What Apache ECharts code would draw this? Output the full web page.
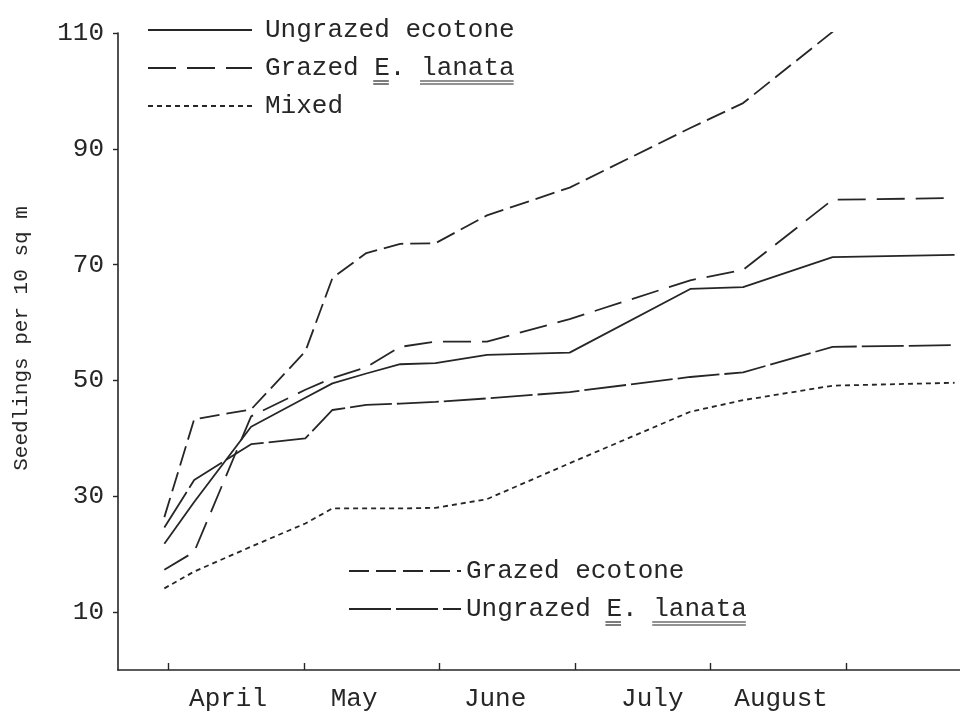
<!DOCTYPE html>
<html>
<head>
<meta charset="utf-8">
<script src="https://cdn.jsdelivr.net/npm/echarts@6/dist/echarts.min.js"></script>
<style>
  html, body { margin: 0; padding: 0; background: #ffffff; }
  #chart { width: 960px; height: 719px; }
</style>
</head>
<body>
<div id="chart"></div>
<script>
// Survey dates, in months after 1 April
const surveyMonths = [-0.03, 0.19, 0.61, 1.01, 1.21, 1.46, 1.71, 1.97, 2.35, 2.96, 3.85, 4.24, 4.90, 5.80];

// Seedlings per 10 sq m at each survey
const grazedEcotone     = [26.4, 43.3, 45.0, 55.0, 67.7, 72.0, 73.6, 73.7, 78.5, 83.3, 93.6, 97.9, 110.2, 112.0];
const grazedLanata      = [17.3, 20.4, 43.8, 48.4, 50.4, 52.3, 55.8, 56.7, 56.7, 60.6, 67.3, 69.1, 81.2, 81.5];
const ungrazedEcotone   = [21.8, 29.0, 42.0, 47.0, 49.5, 51.2, 52.8, 53.0, 54.4, 54.8, 65.8, 66.1, 71.3, 71.7];
const ungrazedLanata    = [24.6, 32.8, 39.0, 40.0, 44.9, 45.8, 46.0, 46.3, 46.9, 48.0, 50.6, 51.4, 55.8, 56.1];
const mixed             = [14.1, 17.0, 21.3, 25.3, 27.9, 27.9, 27.9, 28.0, 29.5, 35.7, 44.6, 46.6, 49.1, 49.6];

// Axis ticks and labels
const monthNames   = ['April', 'May', 'June', 'July', 'August'];
const monthLabelAt = [0.44, 1.37, 2.41, 3.57, 4.52];
const monthTicks   = [0, 1, 2, 3, 4, 5];
const yTicks       = [10, 30, 50, 70, 90, 110];

const FONT = "'Liberation Mono', 'DejaVu Sans Mono', monospace";
const INK = '#262626';
const LEGEND_SIZE = 26;

function pairs(values) {
  return surveyMonths.map((m, i) => [m, values[i]]);
}

function lineSeries(name, values, dash) {
  return {
    name: name,
    type: 'line',
    data: pairs(values),
    symbol: 'none',
    smooth: false,
    animation: false,
    lineStyle: { color: INK, width: 1.8, type: dash },
    itemStyle: { color: INK }
  };
}

const series = [
  lineSeries('Ungrazed ecotone', ungrazedEcotone, 'solid'),
  lineSeries('Grazed E. lanata', grazedLanata, [28, 11]),
  lineSeries('Mixed', mixed, [5, 4]),
  lineSeries('Grazed ecotone', grazedEcotone, [20, 7]),
  lineSeries('Ungrazed E. lanata', ungrazedLanata, [42, 5])
];

// Width of a string in the legend font, used to place the typed underlines
const measurer = document.createElement('canvas').getContext('2d');
measurer.font = LEGEND_SIZE + "px 'Liberation Mono', 'DejaVu Sans Mono', monospace";
function textW(s) { return measurer.measureText(s).width; }

function underline(textLeft, label, word, baseY) {
  const idx = label.indexOf(word);
  const x1 = textLeft + textW(label.slice(0, idx));
  const x2 = x1 + textW(word);
  return [0, 3].map(dy => ({
    type: 'line',
    shape: { x1: x1, y1: baseY + dy, x2: x2, y2: baseY + dy },
    style: { stroke: INK, lineWidth: 1.2 },
    silent: true
  }));
}

const ROW_H = 30, ROW_GAP = 8, LEGEND_PAD = 5;
const topLegendLeft = 142, topIconW = 104, topLegendTop = 10;
const botLegendLeft = 343, botIconW = 112, botLegendTop = 551;
const topTextLeft = topLegendLeft + LEGEND_PAD + topIconW + 5 + 8;
const botTextLeft = botLegendLeft + LEGEND_PAD + botIconW + 5;
// centre of the second row in each key
const topRow2 = topLegendTop + LEGEND_PAD + ROW_H / 2 + ROW_H + ROW_GAP;
const botRow2 = botLegendTop + LEGEND_PAD + ROW_H / 2 + ROW_H + ROW_GAP;

const marks = []
  .concat(underline(topTextLeft, 'Grazed E. lanata', 'E', topRow2 + 13))
  .concat(underline(topTextLeft, 'Grazed E. lanata', 'lanata', topRow2 + 13))
  .concat(underline(botTextLeft, 'Ungrazed E. lanata', 'E', botRow2 + 13))
  .concat(underline(botTextLeft, 'Ungrazed E. lanata', 'lanata', botRow2 + 13));

const option = {
  backgroundColor: '#ffffff',
  animation: false,
  grid: { left: 118, right: 0, top: 33, bottom: 49, containLabel: false },
  legend: [
    {
      data: ['Ungrazed ecotone', 'Grazed E. lanata', 'Mixed'],
      orient: 'vertical', left: topLegendLeft, top: topLegendTop,
      padding: LEGEND_PAD,
      itemWidth: topIconW, itemHeight: 14, itemGap: ROW_GAP,
      selectedMode: false,
      itemStyle: { opacity: 0 },
      textStyle: { fontFamily: FONT, fontSize: LEGEND_SIZE, color: INK,
                   lineHeight: ROW_H, padding: [0, 0, 0, 8] }
    },
    {
      data: ['Grazed ecotone', 'Ungrazed E. lanata'],
      orient: 'vertical', left: botLegendLeft, top: botLegendTop,
      padding: LEGEND_PAD,
      itemWidth: botIconW, itemHeight: 14, itemGap: ROW_GAP,
      selectedMode: false,
      itemStyle: { opacity: 0 },
      textStyle: { fontFamily: FONT, fontSize: LEGEND_SIZE, color: INK, lineHeight: ROW_H }
    }
  ],
  xAxis: {
    type: 'value',
    min: -0.372, max: 5.84,
    axisLine: { show: true, onZero: false, lineStyle: { color: INK, width: 1.6 } },
    axisTick: { show: true, inside: true, length: 7, customValues: monthTicks,
                lineStyle: { color: INK, width: 1.4 } },
    axisLabel: {
      customValues: monthLabelAt,
      formatter: v => monthNames[monthLabelAt.indexOf(v)] || '',
      fontFamily: FONT, fontSize: 26, color: INK, margin: 16
    },
    splitLine: { show: false }
  },
  yAxis: {
    type: 'value',
    min: 0, max: 110,
    name: 'Seedlings per 10 sq m',
    nameLocation: 'middle', nameGap: 86, nameRotate: 90,
    nameTextStyle: { fontFamily: FONT, fontSize: 21, color: INK, padding: [0, 0, 0, 26] },
    axisLine: { show: true, onZero: false, lineStyle: { color: INK, width: 1.6 } },
    axisTick: { show: true, length: 5, customValues: yTicks,
                lineStyle: { color: INK, width: 1.4 } },
    axisLabel: { customValues: yTicks, fontFamily: FONT, fontSize: 26,
                 color: INK, margin: 14 },
    splitLine: { show: false }
  },
  graphic: marks,
  series: series
};

const chart = echarts.init(document.getElementById('chart'), null, { renderer: 'canvas' });
chart.setOption(option);
</script>
</body>
</html>
